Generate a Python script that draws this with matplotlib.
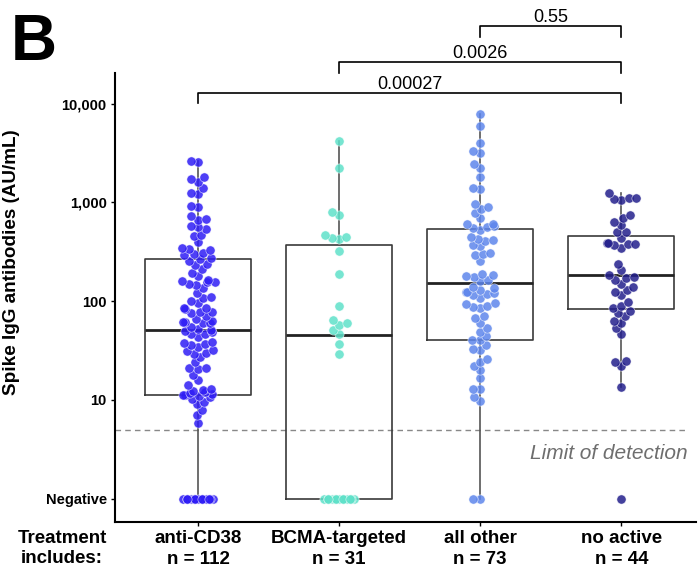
import numpy as np
import matplotlib
matplotlib.use("Agg")
import matplotlib.pyplot as plt
import matplotlib.transforms as mtransforms
from matplotlib.ticker import FixedLocator, NullLocator

plt.rcParams["font.family"] = ["Liberation Sans", "DejaVu Sans"]

# data (AU/mL); negatives are counted separately
groups = ["anti-CD38", "BCMA-targeted", "all other", "no active"]
group_n = [112, 31, 73, 44]
colors = ["#2F1DF5", "#5FE1C9", "#5E86EC", "#231F8C"]

anti_cd38 = [5.9, 7.0, 7.9, 9.0, 9.6, 10.2, 10.8, 11.0, 11.2, 11.3, 11.5, 11.8, 12.0, 12.3, 12.6,
             13, 14, 16, 18, 20.5, 21, 21, 24, 27, 29, 30, 31, 32, 34, 36, 37, 38, 39, 43, 46, 47, 49,
             50, 51, 52, 55, 60, 60, 61, 62, 63, 66, 70, 75, 77, 78, 84, 85, 86,
             95, 100, 108, 110, 120, 135, 145, 150, 155, 158, 160, 162, 180, 195, 210,
             230, 240, 255, 265, 275, 290, 300, 310, 330, 340, 345, 400, 460, 470, 540,
             560, 580, 670, 680, 720, 900, 920, 1230, 1250, 1400, 1600, 1720, 1800, 2550, 2650]
bcma = [29, 37, 46, 51, 58, 60, 64, 89, 190, 320, 425, 435, 445, 470, 740, 790, 2220, 4200]
all_other = [9.8, 10.7, 13, 13, 16.5, 20, 22, 24, 26, 32, 33, 36, 40, 40, 44, 49, 53, 60, 68, 70,
             86, 88, 90, 93, 95, 108, 115, 118, 120, 123, 125, 130, 135, 140, 160, 165, 175, 180,
             185, 190, 255, 290, 300, 310, 360, 370, 410, 420, 430, 450, 520, 550, 560, 580, 600,
             610, 690, 780, 860, 900, 960, 1360, 1390, 1800, 2250, 2450, 3150, 3300, 4000, 6000, 7850]
no_active = [13.5, 22, 24, 25, 47, 53, 60, 63, 70, 75, 80, 85, 90, 97, 115, 125, 130, 140, 150,
             165, 170, 175, 185, 205, 240, 345, 370, 380, 380, 390, 390, 435, 500, 500, 590, 630,
             700, 740, 1060, 1090, 1100, 1110, 1240]
negatives = [13, 13, 2, 1]
detected = [anti_cd38, bcma, all_other, no_active]

# box statistics
box_q1 = [11.2, 1, 40, 83]
box_med = [51, 45, 152, 183]
box_q3 = [266, 370, 535, 460]
box_lo = [1, 1, 1, 13.5]
box_hi = [2650, 4200, 7850, 1240]

pvals = ["0.00027", "0.0026", "0.55"]
pairs = [(0, 3), (1, 3), (2, 3)]

NEG = 1          # where "Negative" sits on the axis
LOD = 5          # limit of detection

fig = plt.figure(figsize=(6.99, 5.75), dpi=100)
ax = fig.add_axes([115 / 699, 53 / 575, 581 / 699, 449 / 575])
ax.set_yscale("log")
ax.set_ylim(10 ** -0.236, 10 ** 4.31)
ax.set_xlim(-0.59, 3.53)

stats = []
for i in range(4):
    stats.append(dict(med=box_med[i], q1=box_q1[i], q3=box_q3[i],
                      whislo=box_lo[i], whishi=box_hi[i], fliers=[]))
ax.bxp(stats, positions=range(4), widths=0.75, showcaps=False, showfliers=False,
       boxprops=dict(color="#3a3a3a", lw=1.2),
       whiskerprops=dict(color="#555555", lw=1.2),
       medianprops=dict(color="#222222", lw=2.0), zorder=1)

ax.plot([-0.59, 3.47], [LOD, LOD], color="#888888", lw=1.0, ls=(0, (4, 3)), zorder=0)
ax.text(3.47, LOD * 0.72, "Limit of detection", ha="right", va="top",
        style="italic", fontsize=15, color="#6e6e6e")


def swarm(ypix, dmin, half):
    xs = np.zeros(len(ypix))
    px, py = [], []
    for i in np.argsort(ypix, kind="stable"):
        y = ypix[i]
        cands = [0.0]
        for a, b in zip(px, py):
            dy = abs(y - b)
            if dy < dmin:
                dx = np.sqrt(dmin ** 2 - dy ** 2)
                cands += [a - dx, a + dx]
        for c in sorted(cands, key=abs):
            if all((c - a) ** 2 + (y - b) ** 2 >= dmin ** 2 - 1e-6 for a, b in zip(px, py)):
                break
        px.append(c)
        py.append(y)
        xs[i] = c
    w = 2 * half
    return (xs + half) % w - half


fig.canvas.draw()
unit = ax.transData.transform((1, 1))[0] - ax.transData.transform((0, 1))[0]
for i in range(4):
    vals = np.array([NEG] * negatives[i] + detected[i], dtype=float)
    ypix = ax.transData.transform(np.column_stack([np.zeros(len(vals)), vals]))[:, 1]
    off = swarm(ypix, 7.5, 17)
    ax.scatter(i + off / unit, vals, s=44, color=colors[i], alpha=0.85,
               edgecolors="white", linewidths=0.4, zorder=3, clip_on=False)

ax.yaxis.set_major_locator(FixedLocator([NEG, 10, 100, 1000, 10000]))
ax.yaxis.set_minor_locator(NullLocator())
ax.set_yticklabels(["Negative", "10", "100", "1,000", "10,000"], fontweight="bold", fontsize=10.5)
ax.set_xticks(range(4))
ax.set_xticklabels([f"{g}\nn = {n}" for g, n in zip(groups, group_n)],
                   fontweight="bold", fontsize=13.5, linespacing=1.25)
ax.tick_params(axis="both", length=3, width=1, color="black", pad=3)
ax.set_ylabel("Spike IgG antibodies (AU/mL)", fontweight="bold", fontsize=13.6, labelpad=12)
ax.yaxis.set_label_coords(-0.163, 0.579)
for s in ["top", "right"]:
    ax.spines[s].set_visible(False)
for s in ["left", "bottom"]:
    ax.spines[s].set_linewidth(1.5)

fig.text(62 / 699, 1 - 530 / 575, "Treatment\nincludes:", ha="center", va="top",
         fontweight="bold", fontsize=13.5, linespacing=1.25)

trans = mtransforms.blended_transform_factory(ax.transData, ax.transAxes)
levels = [(0.9555, 0.933), (1.0245, 1.0), (1.1047, 1.080)]
for (a, b), (top, foot), p in zip(pairs, levels, pvals):
    ax.plot([a, a, b, b], [foot, top, top, foot], color="black", lw=1.2,
            transform=trans, clip_on=False)
    ax.text((a + b) / 2, top + 0.001, p, ha="center", va="bottom", fontsize=13,
            transform=trans)

fig.text(11 / 699, 1 - 60 / 575, "B", fontsize=46, fontweight="bold", va="baseline")

fig.savefig("out.png", dpi=100)
